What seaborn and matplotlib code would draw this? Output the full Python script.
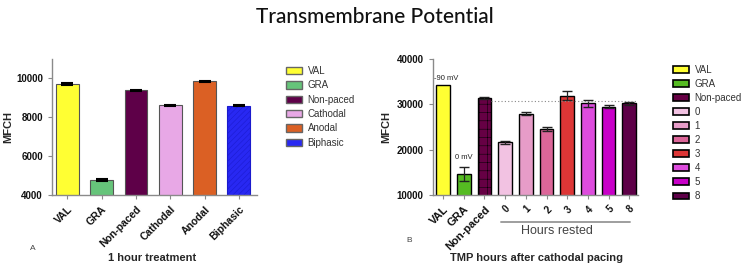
import matplotlib
matplotlib.use("Agg")
import matplotlib.pyplot as plt
import seaborn as sns
import numpy as np
import pandas as pd
from matplotlib.patches import Patch

sns.set_theme(style="ticks")
plt.rcParams['font.family'] = ['Liberation Sans', 'DejaVu Sans']
plt.rcParams['hatch.linewidth'] = 0.35

# ---- Data ----
left_cats = ["VAL", "GRA", "Non-paced", "Cathodal", "Anodal", "Biphasic"]
left_vals = [9730, 4760, 9400, 8620, 9860, 8590]
left_err = [50, 60, 20, 20, 30, 30]
left_colors = ["#ffff33", "#66c47a", "#5e0048", "#e8a8e6", "#db6024", "#2828f2"]

right_cats = ["VAL", "GRA", "Non-paced", "0", "1", "2", "3", "4", "5", "8"]
right_vals = [34300, 14600, 31450, 21600, 27950, 24600, 31900, 30200, 29500, 30200]
right_err = [0, 1500, 200, 300, 300, 400, 1000, 700, 400, 400]
right_colors = ["#ffff33", "#55bb22", "#660044", "#f2c2e2", "#e79cc8", "#dc6699",
                "#dd3636", "#dd4cdd", "#c800c8", "#5e0048"]
ref_level = 30800
annotations = [("-90 mV", 0, 35800), ("0 mV", 1, 18200)]

fig = plt.figure(figsize=(7.5, 2.66), dpi=100)
fig.text(0.5, 0.935, "Transmembrane Potential", ha="center", va="center",
         fontsize=15, fontweight="medium", color="#111111", family=["Lato", "DejaVu Sans"])

spine_c = "#8a8a8a"

def style_axis(ax):
    sns.despine(ax=ax)
    for s in ("left", "bottom"):
        ax.spines[s].set_color(spine_c)
        ax.spines[s].set_linewidth(1.0)
    ax.tick_params(axis="both", colors=spine_c, length=3, width=0.8)
    for lab in ax.get_yticklabels():
        lab.set_fontweight("bold"); lab.set_color("#111111"); lab.set_fontsize(7)
    ax.set_xlabel(""); ax.set_ylabel("")

# ---- Left panel ----
axL = fig.add_axes([0.0693, 0.267, 0.273, 0.511])
dfL = pd.DataFrame({"cat": left_cats, "val": left_vals})
sns.barplot(data=dfL, x="cat", y="val", hue="cat", palette=left_colors, legend=False,
            width=0.67, ax=axL, edgecolor="#555555", linewidth=0.8, errorbar=None,
            saturation=1)
axL.patches[5].set_hatch("//////")
axL.patches[5].set_edgecolor("#1a1acc")
axL.errorbar(np.arange(len(left_cats)), left_vals, yerr=left_err, fmt="none",
             ecolor="black", elinewidth=1.0, capsize=4, capthick=1.5)
axL.set_ylim(4000, 11000)
axL.set_yticks([4000, 6000, 8000, 10000])
axL.set_xlim(-0.45, 5.52)
style_axis(axL)
axL.set_xticks(range(len(left_cats)))
axL.set_xticklabels(left_cats, rotation=45, ha="right", rotation_mode="anchor",
                    fontsize=7.5, fontweight="bold", color="#111111")
axL.set_ylabel("MFCH", fontsize=8, fontweight="bold", labelpad=4)
axL.yaxis.set_label_coords(-0.19, 0.5)
fig.text(0.203, 0.03, "1 hour treatment", ha="center", va="center",
         fontsize=8, fontweight="bold")
fig.text(0.044, 0.064, "A", ha="center", va="center", fontsize=6, color="#444444")
axL.legend(handles=[Patch(facecolor=c, edgecolor="#666666", label=l)
                    for c, l in zip(left_colors, left_cats)],
           loc="upper left", bbox_to_anchor=(0.37, 0.785), bbox_transform=fig.transFigure,
           frameon=False, fontsize=7, handlelength=1.6, handleheight=0.8,
           labelspacing=0.45, handletextpad=0.6, labelcolor="#333333")

# ---- Right panel ----
axR = fig.add_axes([0.577, 0.267, 0.273, 0.511])
dfR = pd.DataFrame({"cat": right_cats, "val": right_vals})
sns.barplot(data=dfR, x="cat", y="val", hue="cat", palette=right_colors, legend=False,
            width=0.67, ax=axR, edgecolor="black", linewidth=1.0, errorbar=None,
            saturation=1)
axR.patches[2].set_hatch("++")
axR.patches[2].set_edgecolor("black")
xs = np.arange(len(right_cats))
mask = np.array(right_err) > 0
axR.errorbar(xs[mask], np.array(right_vals)[mask], yerr=np.array(right_err)[mask],
             fmt="none", ecolor="#222222", elinewidth=0.9, capsize=3.5, capthick=1.0)
axR.set_ylim(10000, 40000)
axR.set_yticks([10000, 20000, 30000, 40000])
axR.set_xlim(-0.5, 9.4)
axR.hlines(ref_level, 2.34, 9.4, colors="#888888", linestyles=(0, (1, 2)), linewidth=0.8)
for txt, xi, yi in annotations:
    axR.text(xi + (0.15 if xi == 0 else 0), yi, txt, ha="center", va="center",
             fontsize=5.5, color="#222222")
style_axis(axR)
axR.set_xticks(range(len(right_cats)))
axR.set_xticklabels(right_cats, rotation=45, ha="right", rotation_mode="anchor",
                    fontweight="bold", color="#111111")
for i, lab in enumerate(axR.get_xticklabels()):
    lab.set_fontsize(8 if i < 3 else 7)
axR.set_ylabel("MFCH", fontsize=8, fontweight="bold")
axR.yaxis.set_label_coords(-0.205, 0.5)
axR.annotate("", xy=(498 / 750, 1 - 222 / 266), xytext=(633 / 750, 1 - 222 / 266),
             xycoords="figure fraction",
             arrowprops=dict(arrowstyle="-", color="#777777", lw=1.0))
fig.text(557 / 750, 1 - 231 / 266, "Hours rested", ha="center", va="center",
         fontsize=9, color="#444444")
fig.text(537 / 750, 0.03, "TMP hours after cathodal pacing", ha="center", va="center",
         fontsize=8, fontweight="bold")
fig.text(409 / 750, 1 - 241 / 266, "B", ha="center", va="center", fontsize=6, color="#444444")
axR.legend(handles=[Patch(facecolor=c, edgecolor="black", linewidth=1.2, label=l)
                    for c, l in zip(right_colors, right_cats)],
           loc="upper left", bbox_to_anchor=(0.886, 0.79), bbox_transform=fig.transFigure,
           frameon=False, fontsize=7, handlelength=1.6, handleheight=0.7,
           labelspacing=0.42, handletextpad=0.6, labelcolor="#333333")

fig.savefig("out.png", dpi=100)
